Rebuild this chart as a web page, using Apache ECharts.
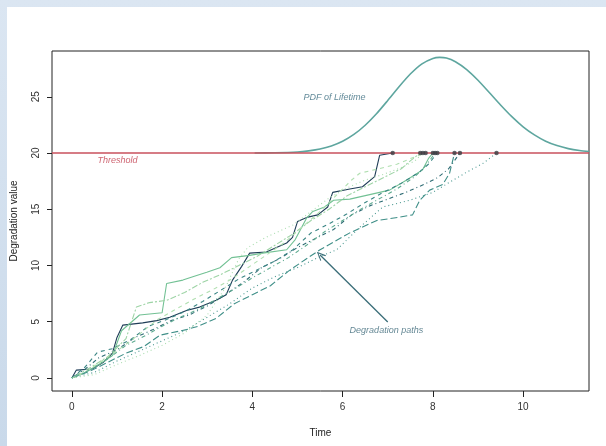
<!DOCTYPE html>
<html>
<head>
<meta charset="utf-8">
<script src="https://cdn.jsdelivr.net/npm/echarts@6/dist/echarts.min.js"></script>
<style>
  html, body { margin: 0; padding: 0; }
  #main { width: 606px; height: 446px; }
</style>
</head>
<body>
<div id="main"></div>
<script>
// tick labels
var timeTicks = [0, 2, 4, 6, 8, 10];
var valueTicks = [0, 5, 10, 15, 20, 25];
var threshold = 20;

// PDF of lifetime, drawn on top of the threshold
var pdfTimes  = [4.05, 4.5, 5.0, 5.25, 5.5, 5.75, 6.0, 6.25, 6.5, 6.75, 7.0, 7.25, 7.5, 7.75, 8.0, 8.15, 8.3, 8.5, 8.75, 9.0, 9.25, 9.5, 9.75, 10.0, 10.25, 10.5, 10.75, 11.0, 11.25, 11.46];
var pdfValues = [20.0, 20.02, 20.09, 20.19, 20.35, 20.62, 21.04, 21.65, 22.47, 23.49, 24.67, 25.89, 27.02, 27.91, 28.41, 28.5, 28.45, 28.12, 27.42, 26.47, 25.38, 24.27, 23.23, 22.33, 21.61, 21.05, 20.66, 20.39, 20.22, 20.14];

// degradation paths, [time, value]
var path1 = [[0,0],[0.1,0.7],[0.45,0.8],[0.7,1.4],[0.9,2.2],[1.0,3.6],[1.13,4.7],[1.57,4.9],[1.88,5.1],[2.17,5.4],[2.54,6.0],[2.83,6.3],[3.2,6.9],[3.42,7.4],[3.56,8.7],[3.76,9.9],[3.94,11.1],[4.31,11.2],[4.76,12.0],[4.89,12.5],[5.0,13.9],[5.23,14.3],[5.45,14.5],[5.67,15.2],[5.78,16.5],[6.16,16.8],[6.44,17.0],[6.71,17.9],[6.82,19.8],[7.11,20]];
var path2 = [[0,0],[0.3,0.5],[0.6,1.2],[0.9,2.0],[1.1,4.2],[1.5,5.6],[2.0,5.8],[2.1,8.4],[2.46,8.7],[2.68,9.0],[2.99,9.4],[3.28,9.8],[3.54,10.7],[3.94,10.9],[4.23,11.1],[4.76,11.4],[4.95,12.3],[5.2,14.2],[5.34,14.8],[5.6,15.2],[5.8,15.8],[6.16,15.9],[6.6,16.3],[7.04,16.7],[7.42,17.6],[7.77,18.5],[7.9,19.5],[8.0,20]];
var path3 = [[0,0],[0.4,0.6],[0.8,1.4],[1.2,2.2],[1.6,2.8],[1.95,3.8],[2.54,4.3],[2.8,4.6],[3.2,5.3],[3.6,6.6],[4.0,7.4],[4.4,8.2],[4.8,9.5],[5.2,10.6],[5.5,11.4],[6.16,12.9],[6.76,14.0],[7.27,14.3],[7.55,14.5],[7.71,15.8],[7.93,16.7],[8.22,17.2],[8.37,18.2],[8.48,20]];
var path4 = [[0,0],[0.5,0.5],[1.0,1.5],[1.5,2.4],[2.0,3.3],[2.5,4.2],[3.0,5.4],[3.5,6.6],[4.0,8.0],[4.5,9.0],[5.05,9.9],[5.5,10.8],[5.87,11.4],[6.38,13.4],[6.89,15.2],[7.49,15.8],[8.0,16.5],[8.37,17.4],[8.75,18.3],[9.12,19.1],[9.41,20]];
var path5 = [[0,0],[0.3,0.8],[0.6,1.8],[1.0,2.5],[1.4,3.6],[1.8,4.3],[2.2,5.1],[2.6,5.6],[3.0,6.4],[3.4,7.4],[3.8,8.5],[4.2,9.8],[4.6,10.6],[5.0,11.6],[5.4,12.4],[5.8,13.2],[6.2,14.5],[6.6,15.3],[7.0,15.9],[7.4,16.5],[7.8,17.2],[8.1,17.8],[8.35,18.6],[8.6,20]];
var path6 = [[0,0],[0.3,1.0],[0.57,2.3],[0.9,2.6],[1.3,3.4],[1.7,4.6],[2.1,5.2],[2.5,5.9],[2.9,6.8],[3.3,7.8],[3.7,8.8],[4.1,9.6],[4.5,10.4],[4.9,11.4],[5.3,12.9],[5.7,13.7],[6.1,14.6],[6.5,15.6],[6.9,16.5],[7.3,17.3],[7.7,18.3],[7.9,19.0],[8.1,20]];
var path7 = [[0,0],[0.4,0.9],[0.8,1.9],[1.2,3.5],[1.43,6.3],[1.72,6.7],[2.1,6.9],[2.5,7.6],[2.9,8.5],[3.3,9.2],[3.7,10.0],[4.1,10.8],[4.5,11.8],[4.9,12.8],[5.3,14.0],[5.7,15.0],[6.1,16.2],[6.5,17.0],[6.9,17.8],[7.3,18.6],[7.5,19.3],[7.72,20]];
var path8 = [[0,0],[0.5,0.3],[1.0,1.2],[1.5,2.0],[2.0,2.9],[2.5,4.0],[3.0,5.6],[3.4,8.0],[3.7,10.6],[3.9,11.6],[4.3,12.5],[4.9,13.6],[5.3,14.8],[5.7,16.0],[6.1,16.9],[6.5,17.6],[6.9,18.1],[7.3,18.7],[7.6,19.3],[7.78,20]];
var path9 = [[0,0],[0.3,0.5],[0.7,1.6],[1.1,2.7],[1.5,3.9],[1.9,5.2],[2.3,6.1],[2.7,7.0],[3.1,7.8],[3.5,8.7],[3.9,9.8],[4.3,10.9],[4.7,12.0],[5.1,13.4],[5.5,14.8],[5.9,16.4],[6.2,17.6],[6.38,18.2],[6.8,18.6],[7.2,19.0],[7.5,19.5],[7.84,20]];
var path10 = [[0,0],[0.4,0.7],[0.8,1.7],[1.2,2.9],[1.6,3.7],[2.0,4.6],[2.4,5.4],[2.8,6.1],[3.2,7.0],[3.6,7.9],[4.0,8.9],[4.4,9.8],[4.8,10.7],[5.2,11.8],[5.6,13.0],[6.0,14.0],[6.4,15.0],[6.8,15.9],[7.2,16.8],[7.6,17.9],[7.85,18.9],[8.05,20]];

// failure times (end points on the threshold)
var failTimes = [7.11, 7.72, 7.78, 7.84, 8.0, 8.05, 8.1, 8.48, 8.6, 9.41];

var paths = [path1, path2, path3, path4, path5, path6, path7, path8, path9, path10];
var pathColors = ['#1f3d57', '#72c194', '#3f8f88', '#4a9890', '#2f6c74', '#3a8584', '#9ed4a6', '#a9dcae', '#b0dfb0', '#5eab90'];
var pathDash = ['solid', 'solid', [7, 3], [1, 3], [1, 3, 4, 3], [4, 4], [2, 2, 6, 2], [1, 3], [4, 4], [1, 3, 4, 3]];

var font = '"Liberation Sans", Arial, sans-serif';
var chart = echarts.init(document.getElementById('main'));

var series = [];
series.push({
  name: 'threshold', type: 'line', data: [], silent: true, z: 1,
  markLine: {
    silent: true, symbol: 'none', label: { show: false },
    lineStyle: { color: '#c9505c', width: 1.6, type: 'solid' },
    data: [{ yAxis: threshold }]
  }
});
paths.forEach(function (p, i) {
  series.push({
    type: 'line', data: p, showSymbol: false, silent: true, z: 3,
    lineStyle: { color: pathColors[i], width: 1.1, type: pathDash[i] }
  });
});
series.push({
  name: 'pdf', type: 'line', smooth: 0.25, showSymbol: false, silent: true, z: 4,
  data: pdfTimes.map(function (t, i) { return [t, pdfValues[i]]; }),
  lineStyle: { color: '#5ea69f', width: 1.6 }
});
series.push({
  name: 'fail', type: 'scatter', silent: true, z: 5,
  data: failTimes.map(function (t) { return [t, threshold]; }),
  symbolSize: 4.5, itemStyle: { color: '#3a3f44' }
});
// arrow to the paths
series.push({
  name: 'arrow', type: 'line', data: [], silent: true, z: 6,
  markLine: {
    silent: true, label: { show: false },
    symbol: ['none', 'path://M5 0 L10 10 L8.6 10 L5 2.6 L1.4 10 L0 10 Z'],
    symbolSize: [8, 9],
    lineStyle: { color: '#3a6d78', width: 1.3, type: 'solid' },
    data: [[{ coord: [7.0, 4.98] }, { coord: [5.5, 10.93] }]]
  }
});
// text notes
series.push({
  name: 'notes', type: 'scatter', silent: true, symbolSize: 0, z: 7,
  data: [
    { value: [1.01, 19.3], label: { formatter: 'Threshold', color: '#c23d4e' } },
    { value: [5.82, 24.9], label: { formatter: 'PDF of Lifetime', color: '#3b6d80' } },
    { value: [6.97, 4.18], label: { formatter: 'Degradation paths', color: '#3b6878' } }
  ],
  label: { show: true, position: 'inside', fontSize: 9, fontStyle: 'italic', fontFamily: font }
});

var option = {
  animation: false,
  backgroundColor: new echarts.graphic.LinearGradient(0, 0, 0, 1, [
    { offset: 0, color: '#dbe6f2' }, { offset: 1, color: '#c9d9ea' }
  ]),
  graphic: [{
    type: 'rect', z: -10, silent: true,
    shape: { x: 7, y: 7, width: 599, height: 439 },
    style: { fill: '#ffffff' }
  }],
  grid: {
    left: 52, top: 51, right: 17, bottom: 55,
    show: true, borderColor: '#222', borderWidth: 1
  },
  xAxis: {
    type: 'value', min: -0.44, max: 11.46,
    name: 'Time', nameLocation: 'middle', nameGap: 37,
    nameTextStyle: { fontSize: 10, color: '#222', fontFamily: font },
    axisLine: { show: false, onZero: false },
    splitLine: { show: false },
    axisTick: { show: true, length: 6, customValues: timeTicks, lineStyle: { color: '#222' } },
    axisLabel: { customValues: timeTicks, margin: 11, fontSize: 10, color: '#333', fontFamily: font }
  },
  yAxis: {
    type: 'value', min: -1.16, max: 29.07,
    name: 'Degradation value', nameLocation: 'middle', nameGap: 33,
    nameTextStyle: { fontSize: 10, color: '#222', fontFamily: font },
    axisLine: { show: false, onZero: false },
    splitLine: { show: false },
    axisTick: { show: true, length: 5, customValues: valueTicks, lineStyle: { color: '#222' } },
    axisLabel: { customValues: valueTicks, rotate: 90, margin: 11, fontSize: 10, color: '#333', fontFamily: font }
  },
  series: series
};

chart.setOption(option);
</script>
</body>
</html>
